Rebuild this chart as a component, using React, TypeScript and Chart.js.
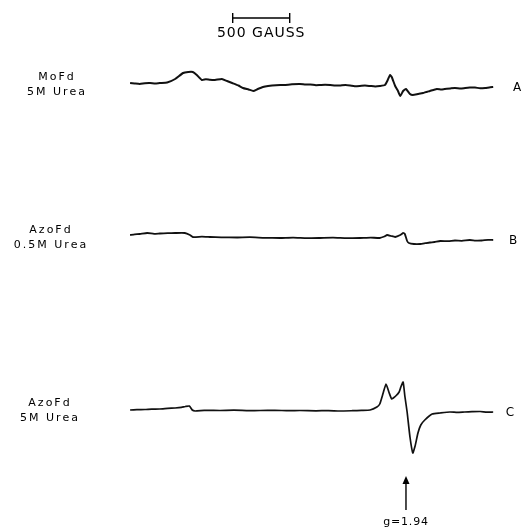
import React, { useEffect, useRef } from "react";
import { Chart, registerables } from "chart.js";

Chart.register(...registerables);

// Magnetic field (gauss) and first-derivative EPR amplitude (arbitrary units) for each trace
const fieldA = [1050, 1090, 1135, 1180, 1225, 1270, 1310, 1375, 1445, 1515, 1560, 1600, 1635, 1680, 1715, 1750, 1795, 1855, 1900, 1945, 2000, 2040, 2090, 2130, 2170, 2215, 2260, 2330, 2400, 2470, 2540, 2590, 2630, 2680, 2715, 2760, 2805, 2850, 2890, 2940, 2980, 3020, 3065, 3110, 3155, 3200, 3240, 3285, 3310, 3330, 3345, 3375, 3400, 3420, 3445, 3470, 3505, 3530, 3575, 3620, 3680, 3740, 3780, 3810, 3860, 3900, 3950, 3990, 4030, 4075, 4120, 4165, 4200, 4235];
const ampA = [1, 0.5, 0, 0.8, 1, 0.5, 1, 1.5, 5, 11, 12, 12, 9, 4, 4.8, 4.2, 4, 5, 3, 1, -1.5, -4, -5.5, -7, -5, -3, -2, -1.2, -1, -0.3, 0, -0.6, -0.5, -1.2, -1, -0.7, -1, -1.6, -1.5, -1, -1.5, -2.2, -2, -1.6, -2, -2.4, -2, -1, 4, 9, 7, -2, -7, -12, -7, -5, -10, -11, -10, -9, -7, -5, -5.6, -5, -4.4, -4, -4.6, -4, -3.6, -3.5, -4.3, -4, -3.4, -3];

const fieldB = [1050, 1090, 1135, 1200, 1260, 1310, 1380, 1445, 1530, 1575, 1600, 1680, 1750, 1850, 1990, 2100, 2230, 2365, 2480, 2600, 2715, 2830, 2950, 3065, 3160, 3240, 3280, 3305, 3340, 3375, 3420, 3445, 3460, 3480, 3495, 3540, 3595, 3640, 3680, 3720, 3770, 3840, 3900, 3960, 4030, 4080, 4135, 4190, 4235];
const ampB = [2, 2.6, 3, 4, 3.2, 3.5, 3.8, 4, 4, 2, 0, 0.3, 0, -0.4, -0.5, -0.2, -0.8, -1, -0.6, -1.2, -1, -0.7, -1.2, -1, -0.6, -1, 0.5, 2, 1, 0, 2, 4, 3, -4, -6, -7, -7, -6.2, -5.5, -5, -4, -4.2, -3.5, -3.8, -3, -3.6, -3.5, -2.8, -3];

const fieldC = [1050, 1110, 1180, 1240, 1310, 1380, 1445, 1500, 1535, 1570, 1595, 1620, 1700, 1840, 1960, 2090, 2190, 2320, 2440, 2540, 2680, 2790, 2890, 3000, 3080, 3155, 3215, 3240, 3270, 3295, 3320, 3345, 3380, 3410, 3425, 3445, 3460, 3480, 3505, 3530, 3550, 3575, 3600, 3635, 3700, 3770, 3855, 3920, 3985, 4050, 4120, 4180, 4235];
const ampC = [0, 0.3, 0.5, 0.9, 1, 1.6, 2, 2.6, 3.5, 4, 0, -1, -0.4, -0.5, -0.2, -0.6, -0.5, -0.3, -0.7, -0.5, -0.8, -0.6, -1, -0.7, -0.4, 0, 3, 6, 17, 26, 18, 11, 14, 18, 23, 28, 14, -2, -27, -43, -36, -23, -15, -10, -4, -3, -2, -2.4, -2, -1.7, -1.5, -2.2, -2];

const sampleNames = ["MoFd", "AzoFd", "AzoFd"];
const conditions = ["5M Urea", "0.5M Urea", "5M Urea"];
const traceLetters = ["A", "B", "C"];

const scaleBarStart = 1950; // gauss
const scaleBarLength = 500; // gauss
const scaleBarLabel = "500 GAUSS";
const gMarkerField = 3470; // gauss
const gMarkerLabel = "g=1.94";

const FONT = '"DejaVu Sans", sans-serif';

function toPoints(xs: number[], ys: number[]) {
  return xs.map((x, i) => ({ x, y: ys[i] }));
}

const annotationPlugin = {
  id: "eprAnnotations",
  afterDraw(chart: any) {
    const ctx = chart.ctx as CanvasRenderingContext2D;
    const xs = chart.scales.x;
    const yIds = ["yA", "yB", "yC"];
    const amps = [ampA, ampB, ampC];
    ctx.save();
    ctx.fillStyle = "#000";
    ctx.strokeStyle = "#000";

    // scale bar
    const x1 = xs.getPixelForValue(scaleBarStart);
    const x2 = xs.getPixelForValue(scaleBarStart + scaleBarLength);
    ctx.lineWidth = 1.4;
    ctx.beginPath();
    ctx.moveTo(x1, 18);
    ctx.lineTo(x2, 18);
    ctx.moveTo(x1, 13);
    ctx.lineTo(x1, 23);
    ctx.moveTo(x2, 13);
    ctx.lineTo(x2, 23);
    ctx.stroke();
    ctx.font = `14px ${FONT}`;
    (ctx as any).letterSpacing = "1px";
    ctx.textAlign = "center";
    ctx.textBaseline = "middle";
    ctx.fillText(scaleBarLabel, (x1 + x2) / 2, 33);

    // left labels and right letters
    const labelX = [57, 51, 50];
    const letterX = [517, 513, 510];
    yIds.forEach((id, i) => {
      const ys = chart.scales[id];
      const base = ys.getPixelForValue(0);
      ctx.font = `11px ${FONT}`;
      (ctx as any).letterSpacing = "2px";
      ctx.textAlign = "center";
      ctx.fillText(sampleNames[i], labelX[i], base - 7);
      ctx.fillText(conditions[i], labelX[i], base + 8);
      ctx.font = `12px ${FONT}`;
      (ctx as any).letterSpacing = "0px";
      const end = ys.getPixelForValue(amps[i][amps[i].length - 1]);
      ctx.fillText(traceLetters[i], letterX[i], end + 1);
    });

    // g marker arrow
    const gx = xs.getPixelForValue(gMarkerField);
    ctx.lineWidth = 1.4;
    ctx.beginPath();
    ctx.moveTo(gx, 510);
    ctx.lineTo(gx, 482);
    ctx.stroke();
    ctx.beginPath();
    ctx.moveTo(gx, 476);
    ctx.lineTo(gx - 3.5, 484);
    ctx.lineTo(gx + 3.5, 484);
    ctx.closePath();
    ctx.fill();
    ctx.font = `11px ${FONT}`;
    (ctx as any).letterSpacing = "0.8px";
    ctx.fillText(gMarkerLabel, gx, 522);
    ctx.restore();
  },
};

export default function App() {
  const ref = useRef<HTMLCanvasElement | null>(null);
  useEffect(() => {
    if (!ref.current) return;
    const line = (data: any, yAxisID: string, width: number) => ({
      data,
      yAxisID,
      borderColor: "#111",
      borderWidth: width,
      pointRadius: 0,
      tension: 0.15,
      fill: false,
    });
    const chart = new Chart(ref.current, {
      type: "line",
      data: {
        datasets: [
          line(toPoints(fieldA, ampA), "yA", 2),
          line(toPoints(fieldB, ampB), "yB", 1.8),
          line(toPoints(fieldC, ampC), "yC", 1.7),
        ],
      },
      options: {
        animation: false,
        responsive: true,
        maintainAspectRatio: false,
        layout: { padding: { left: 124.4, right: 21.4, top: 0, bottom: 0 } },
        plugins: { legend: { display: false }, tooltip: { enabled: false } },
        scales: {
          x: { type: "linear", min: 1000, max: 4300, display: false },
          yA: { type: "linear", min: -445, max: 84, display: false },
          yB: { type: "linear", min: -292, max: 237, display: false },
          yC: { type: "linear", min: -119, max: 410, display: false },
        },
      },
      plugins: [annotationPlugin],
    });
    return () => chart.destroy();
  }, []);
  return (
    <div style={{ position: "fixed", left: 0, top: 0, width: 522, height: 529, background: "#fff" }}>
      <canvas ref={ref} />
    </div>
  );
}
